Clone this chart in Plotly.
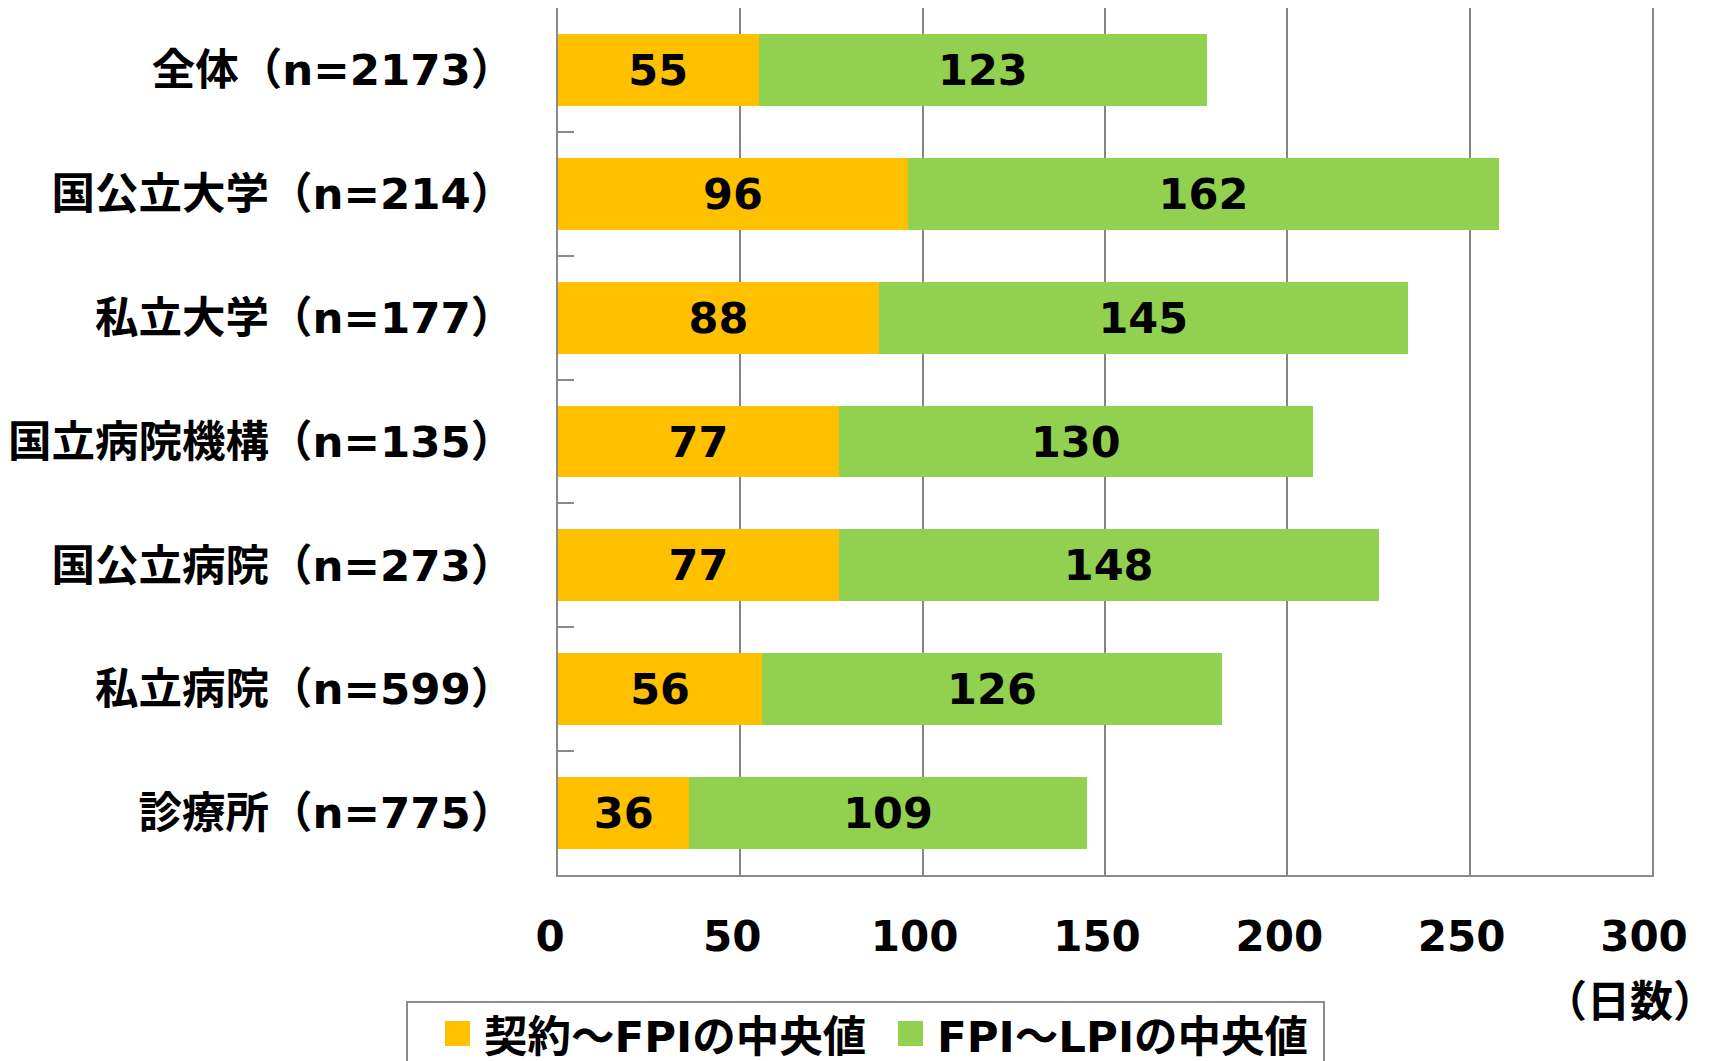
import plotly.graph_objects as go

categories = ["全体（n=2173）", "国公立大学（n=214）", "私立大学（n=177）",
              "国立病院機構（n=135）", "国公立病院（n=273）", "私立病院（n=599）",
              "診療所（n=775）"]
contract_to_fpi = [55, 96, 88, 77, 77, 56, 36]
fpi_to_lpi = [123, 162, 145, 130, 148, 126, 109]
series_names = ["契約～FPIの中央値", "FPI～LPIの中央値"]
series_colors = ["#FFC000", "#92D050"]
x_ticks = [0, 50, 100, 150, 200, 250, 300]
unit_label = "（日数）"

W, H = 1709, 1061
OFF = 8  # page body margin offset
# target page coordinates of the plot area
PL, PR, PT, PB = 558, 1652, 7, 875
L, R, T, B = PL - OFF, PR - OFF, 0, PB - OFF
FONT = "DejaVu Sans, Noto Sans CJK JP, sans-serif"


def px(x):
    return (x - OFF - L) / (R - L)


def py(y):
    return (B - (y - OFF)) / (B - T)


fig = go.Figure()
for name, vals, col in zip(series_names, [contract_to_fpi, fpi_to_lpi], series_colors):
    fig.add_trace(go.Bar(
        y=categories, x=vals, name=name, orientation="h",
        marker=dict(color=col, line=dict(width=0)),
        text=[str(v) for v in vals], textposition="inside",
        insidetextanchor="middle", constraintext="none",
        textfont=dict(family=FONT, size=43, color="black", weight="bold"),
        showlegend=False, hoverinfo="skip",
    ))

fig.update_layout(
    width=W, height=H, barmode="stack", bargap=0.42,
    margin=dict(l=L, r=W - R, t=T, b=H - B, autoexpand=False),
    paper_bgcolor="white", plot_bgcolor="white",
    font=dict(family=FONT, color="black"),
)
fig.update_xaxes(
    range=[0, 300], tickvals=x_ticks, ticktext=[str(v) for v in x_ticks],
    showgrid=True, gridcolor="#858585", gridwidth=1.5,
    showline=True, linecolor="#8a8a8a", linewidth=2, mirror=True,
    ticks="", zeroline=False,
    tickfont=dict(family=FONT, size=42, color="black", weight="bold"),
    ticklabelshift=-8, ticklabelstandoff=24,
)
fig.update_yaxes(
    autorange="reversed", type="category",
    range=[6.5, -0.5],
    showline=True, linecolor="#8a8a8a", linewidth=2, mirror=True,
    ticks="inside", tickson="boundaries", ticklen=16, tickwidth=2, tickcolor="#8a8a8a",
    showgrid=False,
    tickfont=dict(family=FONT, size=43.5, color="black", weight="bold"),
    ticklabelstandoff=33,
)

# Legend drawn manually
fig.add_shape(type="rect", xref="paper", yref="paper",
              x0=px(407), x1=px(1324), y0=py(1002), y1=py(1100),
              line=dict(color="#8c8c8c", width=2), fillcolor="white", layer="above")
legend_items = [(445, 482), (898, 935)]
for (sx, tx), name, col in zip(legend_items, series_names, series_colors):
    fig.add_shape(type="rect", xref="paper", yref="paper",
                  x0=px(sx), x1=px(sx + 25), y0=py(1021), y1=py(1046),
                  line=dict(width=0), fillcolor=col, layer="above")
    fig.add_annotation(xref="paper", yref="paper", x=px(tx), y=py(1037),
                       xanchor="left", yanchor="middle", showarrow=False,
                       text=name, font=dict(family=FONT, size=43.5, color="black", weight="bold"))

fig.add_annotation(xref="paper", yref="paper", x=px(1630), y=py(1002),
                   xanchor="center", yanchor="middle", showarrow=False,
                   text=unit_label, font=dict(family=FONT, size=43, color="black", weight="bold"))
fig.add_annotation(xref="paper", yref="paper", x=px(1697), y=py(1054),
                   xanchor="center", yanchor="top", showarrow=False,
                   text="8", font=dict(family=FONT, size=28, color="black"))

fig.write_html("out.html")
